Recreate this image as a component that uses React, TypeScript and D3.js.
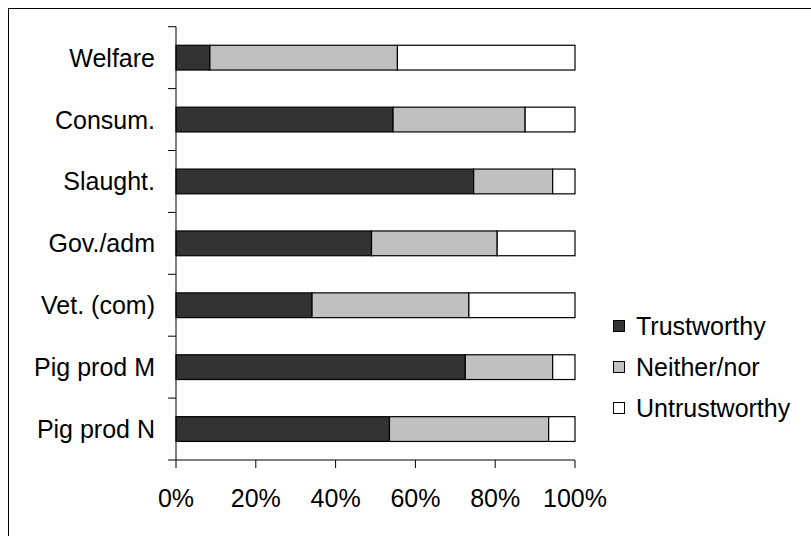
import React from "react";
import * as d3 from "d3";

const categories = ["Welfare", "Consum.", "Slaught.", "Gov./adm", "Vet. (com)", "Pig prod M", "Pig prod N"];
const trustworthy = [8.5, 54.4, 74.6, 49, 34.1, 72.5, 53.5];
const neither = [47, 33.1, 19.8, 31.5, 39.3, 21.9, 39.9];
const untrustworthy = [44.5, 12.5, 5.6, 19.5, 26.6, 5.6, 6.6];
const seriesNames = ["Trustworthy", "Neither/nor", "Untrustworthy"];
const seriesColors = ["#333333", "#c0c0c0", "#ffffff"];
const xTicks = [0, 20, 40, 60, 80, 100];

const W = 811;
const H = 536;
const left = 176;
const right = 575;
const top = 26.7;
const bottom = 460;
const FONT = "'Liberation Sans', Arial, sans-serif";
const FS = 25;

export default function App() {
  const x = d3.scaleLinear().domain([0, 100]).range([left, right]);
  const y = d3.scaleBand<string>().domain(categories).range([top, bottom]).paddingInner(0.6).paddingOuter(0.3);
  const step = (bottom - top) / categories.length;
  const rows = categories.map((c, i) => ({ c, vals: [trustworthy[i], neither[i], untrustworthy[i]] }));
  const stacked = rows.map((r) => {
    let acc = 0;
    return r.vals.map((v, k) => {
      const s = { x0: acc, x1: acc + v, k };
      acc += v;
      return s;
    });
  });
  const legendY = [326, 367, 408];
  return (
    <svg width={W} height={H} style={{ position: "absolute", left: 0, top: 0, background: "#fff" }}>
      <rect x={8.5} y={8.5} width={900} height={900} fill="#fff" stroke="#000" strokeWidth={1} />
      {stacked.map((segs, i) => (
        <g key={categories[i]}>
          {segs.map((s) => (
            <rect
              key={s.k}
              x={x(s.x0)}
              y={y(categories[i])}
              width={x(s.x1) - x(s.x0)}
              height={y.bandwidth()}
              fill={seriesColors[s.k]}
              stroke="#000"
              strokeWidth={1.2}
            />
          ))}
        </g>
      ))}
      {/* y axis */}
      <line x1={left} x2={left} y1={top} y2={bottom} stroke="#000" />
      {d3.range(categories.length + 1).map((i) => (
        <line key={i} x1={left - 8} x2={left} y1={top + i * step} y2={top + i * step} stroke="#000" />
      ))}
      {categories.map((c) => (
        <text
          key={c}
          x={155}
          y={(y(c) as number) + y.bandwidth() / 2}
          textAnchor="end"
          dominantBaseline="central"
          fontFamily={FONT}
          fontSize={FS}
        >
          {c}
        </text>
      ))}
      {/* x axis */}
      <line x1={left} x2={right} y1={bottom} y2={bottom} stroke="#000" />
      {xTicks.map((t) => (
        <g key={t}>
          <line x1={x(t)} x2={x(t)} y1={bottom} y2={bottom + 8} stroke="#000" />
          <text x={x(t)} y={498} textAnchor="middle" dominantBaseline="central" fontFamily={FONT} fontSize={FS}>
            {t}%
          </text>
        </g>
      ))}
      {/* legend */}
      {seriesNames.map((n, k) => (
        <g key={n}>
          <rect x={613.5} y={legendY[k] - 5.5} width={11} height={11} fill={seriesColors[k]} stroke="#000" />
          <text x={636} y={legendY[k]} dominantBaseline="central" fontFamily={FONT} fontSize={FS}>
            {n}
          </text>
        </g>
      ))}
    </svg>
  );
}
